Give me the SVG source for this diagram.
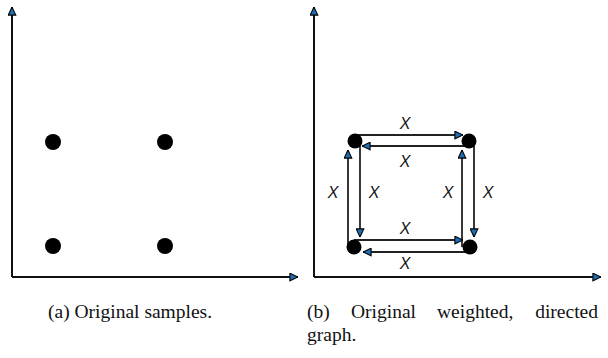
<svg xmlns="http://www.w3.org/2000/svg" width="608" height="358" viewBox="0 0 608 358">
<style>
.ax{stroke:#111;stroke-width:2;fill:none}
.ed{stroke:#222;stroke-width:1.8;fill:none}
.dot{fill:#000}
.lbl{font-family:"Liberation Sans",Arial,sans-serif;font-style:italic;font-size:16px;fill:#111;text-anchor:middle}
.cap{font-family:"Liberation Serif","Times New Roman",serif;font-size:19.5px;fill:#111}
</style>
<defs>
<marker id="ah" viewBox="0 0 10 10" refX="9.5" refY="5" markerWidth="9" markerHeight="9" markerUnits="userSpaceOnUse" orient="auto">
<path d="M0.5,0.8 L9.5,5 L0.5,9.2 Z" fill="#1f6db3" stroke="#000" stroke-width="1.2"/>
</marker>
</defs>
<g id="axes">
<line class="ax" x1="12" y1="277" x2="12" y2="7" marker-end="url(#ah)"/>
<line class="ax" x1="12" y1="277" x2="298" y2="277" marker-end="url(#ah)"/>
<line class="ax" x1="314" y1="277" x2="314" y2="7" marker-end="url(#ah)"/>
<line class="ax" x1="314" y1="277" x2="601" y2="277" marker-end="url(#ah)"/>
</g>
<g id="connectors">
<line class="ed" x1="355" y1="135" x2="463" y2="135" marker-end="url(#ah)"/>
<line class="ed" x1="469" y1="146" x2="362" y2="146" marker-end="url(#ah)"/>
<line class="ed" x1="348" y1="247" x2="348" y2="150" marker-end="url(#ah)"/>
<line class="ed" x1="360" y1="141" x2="360" y2="237" marker-end="url(#ah)"/>
<line class="ed" x1="462" y1="247" x2="462" y2="150" marker-end="url(#ah)"/>
<line class="ed" x1="474" y1="141" x2="474" y2="237" marker-end="url(#ah)"/>
<line class="ed" x1="354" y1="240" x2="463" y2="240" marker-end="url(#ah)"/>
<line class="ed" x1="470" y1="252" x2="363" y2="252" marker-end="url(#ah)"/>
</g>
<g id="a-p1"><circle class="dot" cx="53" cy="142" r="8"/></g>
<g id="a-p2"><circle class="dot" cx="165" cy="142" r="8"/></g>
<g id="a-p3"><circle class="dot" cx="53" cy="246" r="8"/></g>
<g id="a-p4"><circle class="dot" cx="165" cy="246" r="8"/></g>
<g id="b-tl"><circle class="dot" cx="355" cy="141" r="7.5"/></g>
<g id="b-tr"><circle class="dot" cx="469" cy="141" r="7.5"/></g>
<g id="b-bl"><circle class="dot" cx="354" cy="247" r="7.5"/></g>
<g id="b-br"><circle class="dot" cx="470" cy="247" r="7.5"/></g>
<g id="labels">
<text class="lbl" x="405" y="129">X</text>
<text class="lbl" x="405" y="167">X</text>
<text class="lbl" x="333" y="198">X</text>
<text class="lbl" x="374" y="198">X</text>
<text class="lbl" x="448" y="198">X</text>
<text class="lbl" x="488" y="198">X</text>
<text class="lbl" x="405" y="234">X</text>
<text class="lbl" x="405" y="269">X</text>
</g>
<g id="captions">
<text class="cap" x="48" y="318">(a) Original samples.</text>
<text class="cap" x="307" y="318">(b)</text>
<text class="cap" x="351" y="318">Original</text>
<text class="cap" x="437" y="318">weighted,</text>
<text class="cap" x="598" y="318" text-anchor="end">directed</text>
<text class="cap" x="307" y="341">graph.</text>
</g>
</svg>
